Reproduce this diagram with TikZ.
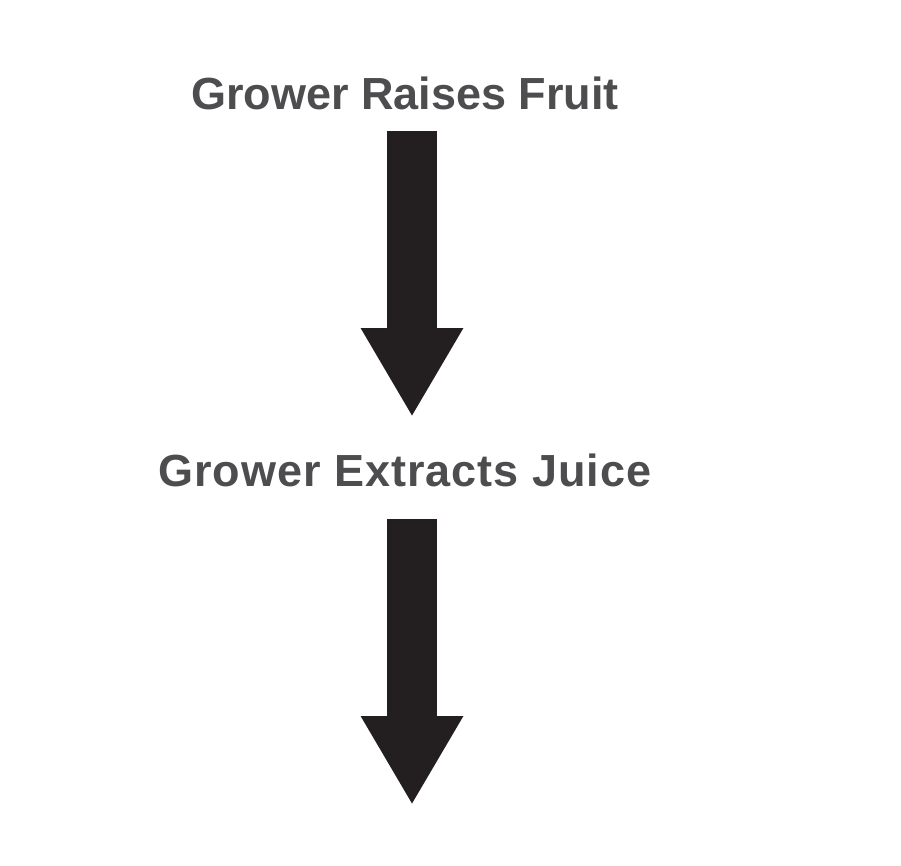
\documentclass[tikz,border=0pt]{standalone}
\usepackage{fontspec}
\setmainfont{Liberation Sans}
\usetikzlibrary{arrows.meta}
\definecolor{stepGray}{RGB}{77, 77, 79}
\definecolor{arrowDark}{RGB}{35, 31, 32}

\begin{document}
\begin{tikzpicture}[
    x=1pt, y=-1pt,
    steptext/.style={
        text=stepGray,
        font=\fontsize{45}{54}\selectfont\bfseries,
        anchor=base,
        inner sep=0pt
    },
    blockarrow/.style={
        draw=arrowDark,
        line width=50pt,
        -{Triangle[width=96pt, length=89pt]}
    }
]
    \useasboundingbox (0,0) rectangle (901,866);

    % Steps
    \node[steptext] (raise) at (405,110) {Grower Raises Fruit};
    \node[steptext] (extract) at (405,486)
        {\addfontfeature{LetterSpace=2.2}Grower Extracts Juice};

    % Arrow ends
    \coordinate (raiseOut) at (412,131);
    \coordinate (raiseTip) at (412,417);
    \coordinate (extractOut) at (412,519);
    \coordinate (extractTip) at (412,805);

    % Arrows
    \draw[blockarrow] (raiseOut) -- (raiseTip);
    \draw[blockarrow] (extractOut) -- (extractTip);

\end{tikzpicture}
\end{document}
